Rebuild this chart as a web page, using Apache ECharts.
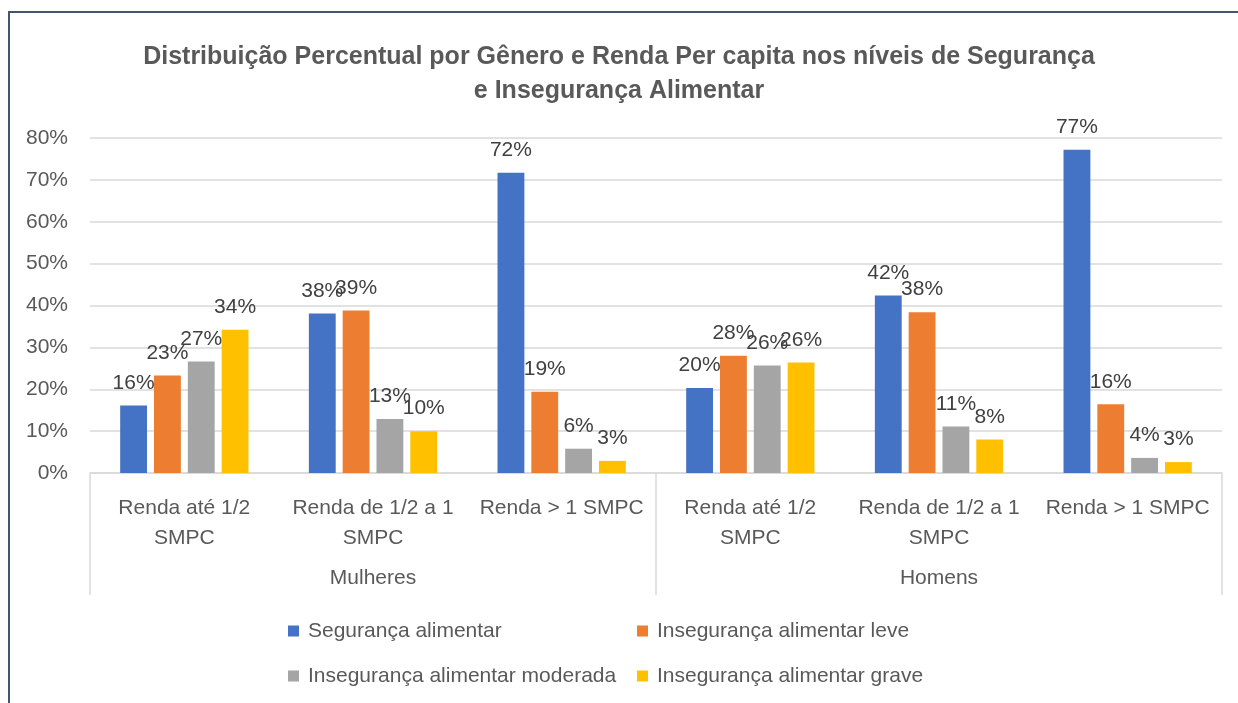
<!DOCTYPE html>
<html>
<head>
	<title>Distribuição Percentual</title>
	<meta charset="utf-8" />
	<script type="text/javascript" src="https://cdn.jsdelivr.net/npm/echarts@6/dist/echarts.min.js"></script>
	<style type="text/css">
		html, body { margin: 0; padding: 0; background: #fff; }
		#container { width: 1238px; height: 703px; }
	</style>
</head>
<body>
<div id="container"></div>
<script type="text/javascript">
	// categorias (nível 1 e nível 2)
	var categorias = ['Renda até 1/2\nSMPC', 'Renda de 1/2 a 1\nSMPC', 'Renda > 1 SMPC',
		'Renda até 1/2\nSMPC', 'Renda de 1/2 a 1\nSMPC', 'Renda > 1 SMPC'];
	var generos = ['Mulheres', 'Homens'];

	// valores em %
	var seguranca = [16.1, 38.1, 71.7, 20.3, 42.4, 77.2];
	var insegLeve = [23.3, 38.8, 19.4, 28.0, 38.4, 16.4];
	var insegModerada = [26.6, 12.9, 5.8, 25.7, 11.1, 3.6];
	var insegGrave = [34.2, 10.0, 2.9, 26.4, 8.0, 2.6];

	var yTicks = [0, 10, 20, 30, 40, 50, 60, 70, 80];

	var fonte = 'Liberation Sans';
	var cinza = '#595959';

	var chart = echarts.init(document.getElementById('container'));

	function serie(nome, dados, cor) {
		return {
			name: nome,
			type: 'bar',
			data: dados,
			barGap: '26%',
			barCategoryGap: '32%',
			itemStyle: { color: cor },
			label: {
				show: true,
				position: 'top',
				distance: 12,
				formatter: function (p) { return Math.round(p.value) + '%'; },
				fontFamily: fonte,
				fontSize: 21,
				color: '#404040'
			}
		};
	}

	var options = {
		backgroundColor: '#fff',
		animation: false,
		title: {
			text: 'Distribuição Percentual por Gênero e Renda Per capita nos níveis de Segurança\ne Insegurança Alimentar',
			left: 'center',
			top: 40,
			padding: 0,
			textStyle: {
				fontFamily: fonte,
				fontSize: 25,
				fontWeight: 'bold',
				color: cinza,
				lineHeight: 34
			}
		},
		graphic: [{
			type: 'rect',
			shape: { x: 9, y: 12, width: 1240, height: 700 },
			style: { fill: 'none', stroke: '#44546a', lineWidth: 2 },
			silent: true
		}],
		legend: {
			left: 288,
			top: 613,
			width: 700,
			padding: 0,
			itemGap: 9,
			itemWidth: 11,
			itemHeight: 11,
			icon: 'rect',
			textStyle: {
				fontFamily: fonte,
				fontSize: 21,
				color: cinza,
				width: 320,
				padding: [0, 0, 0, 4],
				lineHeight: 36
			}
		},
		grid: { left: 90, right: 16, top: 138, bottom: 230 },
		xAxis: [{
			type: 'category',
			data: categorias,
			axisLine: { lineStyle: { color: '#d9d9d9', width: 1.5 } },
			axisTick: { show: false },
			axisLabel: {
				interval: 0,
				margin: 20,
				fontFamily: fonte,
				fontSize: 21,
				lineHeight: 30,
				color: cinza
			}
		}, {
			type: 'category',
			data: generos,
			position: 'bottom',
			offset: 122,
			axisLine: { show: false },
			axisTick: {
				show: true,
				inside: true,
				length: 122,
				interval: 0,
				lineStyle: { color: '#d9d9d9', width: 1.5 }
			},
			axisLabel: {
				inside: true,
				margin: 6,
				fontFamily: fonte,
				fontSize: 21,
				color: cinza
			}
		}],
		yAxis: {
			type: 'value',
			min: yTicks[0],
			max: yTicks[yTicks.length - 1],
			interval: 10,
			axisLine: { show: false },
			axisTick: { show: false },
			splitLine: { lineStyle: { color: '#d9d9d9', width: 1.5 } },
			axisLabel: {
				margin: 22,
				formatter: '{value}%',
				fontFamily: fonte,
				fontSize: 21,
				color: cinza
			}
		},
		series: [
			serie('Segurança alimentar', seguranca, '#4472c4'),
			serie('Insegurança alimentar leve', insegLeve, '#ed7d31'),
			serie('Insegurança alimentar moderada', insegModerada, '#a5a5a5'),
			serie('Insegurança alimentar grave', insegGrave, '#ffc000')
		]
	};

	chart.setOption(options);
</script>
</body>
</html>
